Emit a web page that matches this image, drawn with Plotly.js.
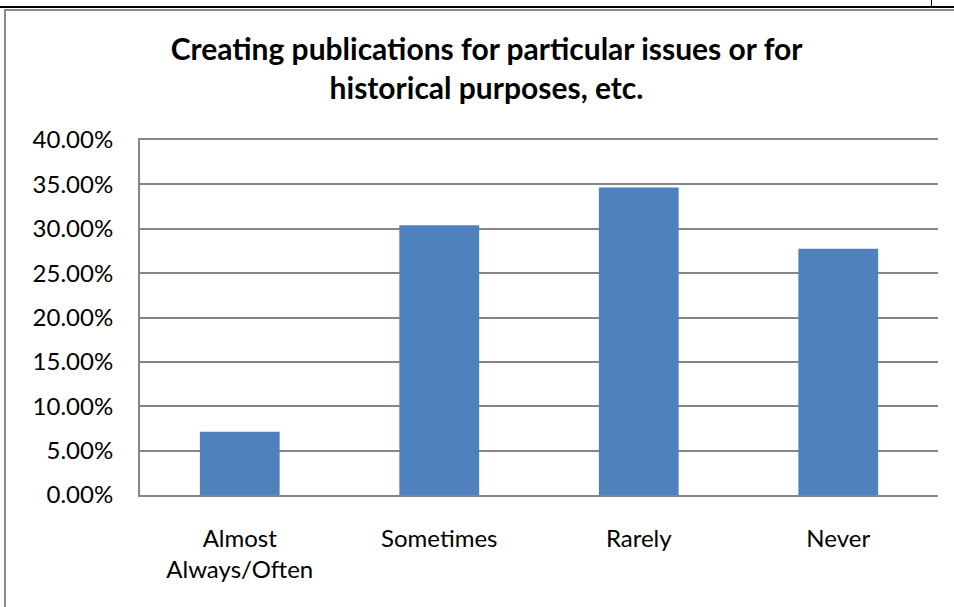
<!DOCTYPE html>
<html><head><meta charset="utf-8">
<script src="https://cdn.plot.ly/plotly-3.0.1.min.js"></script>
<style>
html,body{margin:0;padding:0;background:#fff;overflow:hidden;}
#wrap{position:relative;width:954px;height:607px;}
#chart{position:absolute;left:0;top:0;width:954px;height:607px;}
.ln{position:absolute;}
</style></head>
<body><div id="wrap"><div id="chart"></div>
<div class="ln" style="left:0;top:6px;width:954px;height:2px;background:#000;"></div>
<div class="ln" style="left:931px;top:0;width:1px;height:7px;background:#000;"></div>
<div class="ln" style="left:4px;top:9px;width:950px;height:2px;background:#8a8a8a;"></div>
<div class="ln" style="left:4px;top:9px;width:2px;height:598px;background:#8a8a8a;"></div>
</div>
<script>
var categories = ["Almost<br>Always/Often", "Sometimes", "Rarely", "Never"];
var values = [0.0712, 0.3040, 0.3465, 0.2775];
var yTickVals = [0, 0.05, 0.10, 0.15, 0.20, 0.25, 0.30, 0.35, 0.40];

var font = "Lato, 'Open Sans', sans-serif";
Plotly.newPlot('chart', [{
  type: 'bar', x: categories, y: values,
  marker: {color: '#4f81bd'}, hoverinfo: 'none'
}], {
  width: 954, height: 607,
  margin: {l: 140, r: 16, t: 140, b: 112},
  paper_bgcolor: 'rgba(0,0,0,0)', plot_bgcolor: '#fff',
  bargap: 0.6,
  showlegend: false,
  title: {text: '<b>Creating publications for particular issues or for<br>historical purposes, etc.</b>',
    x: 0.51, xref: 'container', xanchor: 'center', y: 0.901, yref: 'container', yanchor: 'middle',
    font: {family: font, size: 30, color: '#000'}},
  xaxis: {showgrid: false, showline: true, mirror: true, linecolor: '#868686', linewidth: 2,
    ticks: '', ticklabelstandoff: 21,
    tickfont: {family: font, size: 24, color: '#000'}},
  yaxis: {range: [0, 0.4], tickvals: yTickVals, tickformat: '.2%',
    showgrid: true, gridcolor: '#868686', gridwidth: 2,
    showline: true, linecolor: '#868686', linewidth: 2, zeroline: false,
    ticks: '', ticklabelstandoff: 20,
    tickfont: {family: font, size: 24, color: '#000'}}
}, {staticPlot: true});
</script></body></html>
